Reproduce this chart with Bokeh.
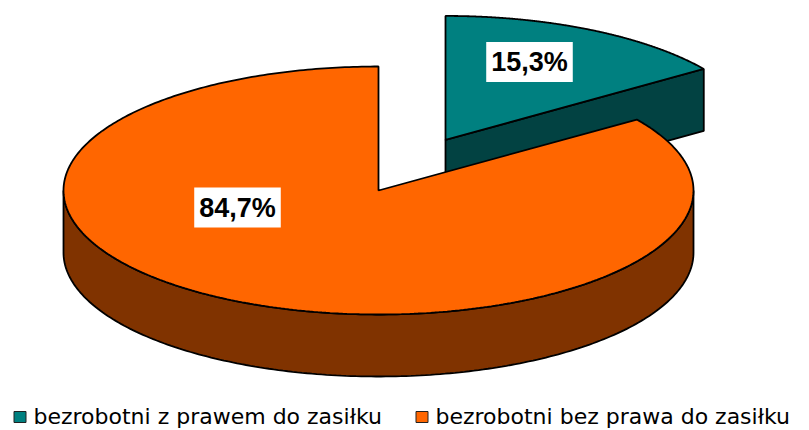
import numpy as np
from bokeh.plotting import figure
from bokeh.models import Range1d, Label
from bokeh.core.properties import value
from bokeh.embed import file_html
from bokeh.resources import INLINE

# ---------------- data ----------------
categories = ["bezrobotni z prawem do zasiłku", "bezrobotni bez prawa do zasiłku"]
shares = [15.3, 84.7]
pct_labels = ["15,3%", "84,7%"]
top_colors = ["#008080", "#FF6600"]
side_colors = ["#024242", "#803300"]
explode = [0.46, 0.0]

# ---------------- layout ----------------
W, H = 809, 430
CX, CY = 378, 190          # centre of top ellipse (screen px)
A, B = 315, 124            # ellipse semi-axes
DEPTH = 62                 # pie thickness
START = 90.0               # start angle (deg), slices go clockwise
label_offsets = [(84, -78), (-141, 17)]   # from slice apex
legend_y = 416.5
legend_txt_y = 415.5
legend_sq_x = [19.5, 421.5]
legend_txt_x = [33, 435]

p = figure(width=W, height=H, x_range=Range1d(0, W), y_range=Range1d(H, 0),
           output_backend="svg", toolbar_location=None, min_border=0)
p.axis.visible = False
p.grid.visible = False
p.outline_line_color = None
p.background_fill_color = "white"


def pt(t_deg, dx, dy, z=0.0):
    t = np.radians(t_deg)
    return CX + dx + A * np.cos(t), CY + dy - B * np.sin(t) + z


total = sum(shares)
slices = []
cum = 0.0
for i, s in enumerate(shares):
    t0 = START - cum / total * 360.0
    t1 = START - (cum + s) / total * 360.0
    cum += s
    mid = np.radians((t0 + t1) / 2)
    dx = explode[i] * A * np.cos(mid)
    dy = -explode[i] * B * np.sin(mid)
    slices.append(dict(i=i, t0=t0, t1=t1, dx=dx, dy=dy, depthkey=np.sin(mid) + explode[i]))

# draw back-most first
slices.sort(key=lambda d: -d["depthkey"])

LW = 1.8
for sl in slices:
    i, t0, t1, dx, dy = sl["i"], sl["t0"], sl["t1"], sl["dx"], sl["dy"]
    ax, ay = CX + dx, CY + dy
    # radial cut faces
    faces = []
    if np.cos(np.radians(t1)) > 1e-6:
        faces.append(t1)
    if np.cos(np.radians(t0)) < -1e-6:
        faces.append(t0)
    for tf in faces:
        rx, ry = pt(tf, dx, dy)
        p.patch([ax, rx, rx, ax], [ay, ry, ry + DEPTH, ay + DEPTH],
                fill_color=side_colors[i], line_color="black", line_width=LW)
    # front outer wall
    for k in range(-3, 3):
        lo, hi = -180 + 360 * k, 360 * k
        a0, a1 = max(lo, t1), min(hi, t0)
        if a1 - a0 > 0.01:
            ts = np.linspace(a0, a1, 200)
            xs, ys = pt(ts, dx, dy)
            wx = np.concatenate([xs, xs[::-1]])
            wy = np.concatenate([ys, ys[::-1] + DEPTH])
            p.patch(wx, wy, fill_color=side_colors[i], line_color="black", line_width=LW)
    # top
    ts = np.linspace(t0, t1, 400)
    xs, ys = pt(ts, dx, dy)
    p.patch(np.concatenate([[ax], xs]), np.concatenate([[ay], ys]),
            fill_color=top_colors[i], line_color="black", line_width=LW)
    ox, oy = label_offsets[i]
    p.add_layout(Label(x=ax + ox, y=ay + oy, text=pct_labels[i],
                       text_font="Liberation Sans", text_font_style="bold",
                       text_font_size="27px", text_color="black",
                       text_align="center", text_baseline="middle",
                       background_fill_color="white", padding=5))

# legend
p.rect(x=legend_sq_x, y=[legend_y] * 2, width=12, height=11,
       fill_color=top_colors, line_color="#222222", line_width=1)
p.text(x=legend_txt_x, y=[legend_txt_y] * 2, text=categories,
       text_font=value("DejaVu Sans"),
       text_font_size="22px", text_color="black",
       text_align="left", text_baseline="middle")

open("out.html", "w").write(file_html(p, INLINE))
